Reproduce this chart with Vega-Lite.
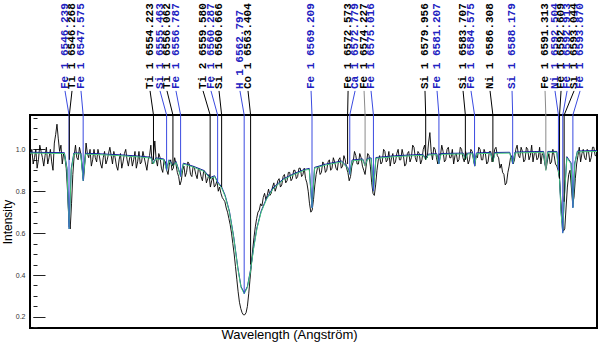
{
  "$schema": "https://vega.github.io/schema/vega-lite/v6.json",
  "width": 567,
  "height": 213,
  "autosize": {"type": "none"},
  "padding": {"left": 30, "top": 115, "right": 3, "bottom": 17},
  "background": "white",
  "title": {"text": "Wavelength (Angström)", "orient": "bottom", "anchor": "middle", "dx": -24, "offset": 1, "fontSize": 13, "fontWeight": "normal", "font": "Liberation Sans", "color": "#000", "baseline": "top"},
  "config": {
    "view": {"stroke": "#000", "strokeWidth": 2},
    "axis": {"labelFont": "Liberation Sans", "titleFont": "Liberation Sans", "titleFontWeight": "normal", "titleColor": "#000", "grid": false}
  },
  "datasets": {
    "obs": [
      {"l":6542.600,"f":0.97},{"l":6542.725,"f":1.00},{"l":6542.850,"f":0.93},{"l":6542.975,"f":0.96},{"l":6543.100,"f":1.00},{"l":6543.225,"f":0.91},{"l":6543.350,"f":0.95},{"l":6543.475,"f":1.02},
      {"l":6543.600,"f":0.99},{"l":6543.725,"f":0.96},{"l":6543.850,"f":0.92},{"l":6543.975,"f":0.97},{"l":6544.100,"f":1.01},{"l":6544.225,"f":0.93},{"l":6544.350,"f":0.96},{"l":6544.475,"f":1.00},
      {"l":6544.600,"f":0.94},{"l":6544.725,"f":0.90},{"l":6544.850,"f":1.03},{"l":6544.975,"f":1.07},{"l":6545.100,"f":1.12},{"l":6545.225,"f":1.05},{"l":6545.350,"f":0.99},{"l":6545.475,"f":1.02},
      {"l":6545.600,"f":0.93},{"l":6545.725,"f":0.98},{"l":6545.850,"f":0.96},{"l":6545.975,"f":0.91},{"l":6546.100,"f":0.80},{"l":6546.225,"f":0.66},{"l":6546.350,"f":0.62},{"l":6546.475,"f":0.74},
      {"l":6546.600,"f":0.88},{"l":6546.725,"f":0.97},{"l":6546.850,"f":1.02},{"l":6546.975,"f":0.96},{"l":6547.100,"f":0.95},{"l":6547.225,"f":1.01},{"l":6547.350,"f":0.98},{"l":6547.475,"f":0.92},
      {"l":6547.600,"f":0.85},{"l":6547.725,"f":0.93},{"l":6547.850,"f":1.03},{"l":6547.975,"f":0.98},{"l":6548.100,"f":0.96},{"l":6548.225,"f":1.00},{"l":6548.350,"f":0.92},{"l":6548.475,"f":0.95},
      {"l":6548.600,"f":1.00},{"l":6548.725,"f":0.96},{"l":6548.850,"f":0.94},{"l":6548.975,"f":1.00},{"l":6549.100,"f":0.97},{"l":6549.225,"f":0.93},{"l":6549.350,"f":0.91},{"l":6549.475,"f":0.96},
      {"l":6549.600,"f":0.99},{"l":6549.725,"f":0.93},{"l":6549.850,"f":0.95},{"l":6549.975,"f":0.98},{"l":6550.100,"f":1.01},{"l":6550.225,"f":0.97},{"l":6550.350,"f":0.93},{"l":6550.475,"f":0.99},
      {"l":6550.600,"f":0.96},{"l":6550.725,"f":0.92},{"l":6550.850,"f":0.90},{"l":6550.975,"f":0.95},{"l":6551.100,"f":0.98},{"l":6551.225,"f":0.91},{"l":6551.350,"f":0.94},{"l":6551.475,"f":0.98},
      {"l":6551.600,"f":1.00},{"l":6551.725,"f":0.95},{"l":6551.850,"f":0.92},{"l":6551.975,"f":0.96},{"l":6552.100,"f":0.97},{"l":6552.225,"f":0.92},{"l":6552.350,"f":0.95},{"l":6552.475,"f":0.99},
      {"l":6552.600,"f":0.91},{"l":6552.725,"f":0.94},{"l":6552.850,"f":0.99},{"l":6552.975,"f":0.93},{"l":6553.100,"f":0.94},{"l":6553.225,"f":0.99},{"l":6553.350,"f":0.96},{"l":6553.475,"f":0.93},
      {"l":6553.600,"f":0.90},{"l":6553.725,"f":0.95},{"l":6553.850,"f":0.97},{"l":6553.975,"f":1.02},{"l":6554.100,"f":0.93},{"l":6554.225,"f":0.97},{"l":6554.350,"f":1.04},{"l":6554.475,"f":0.95},
      {"l":6554.600,"f":0.92},{"l":6554.725,"f":0.98},{"l":6554.850,"f":0.96},{"l":6554.975,"f":0.91},{"l":6555.100,"f":0.89},{"l":6555.225,"f":0.95},{"l":6555.350,"f":0.94},{"l":6555.475,"f":0.90},
      {"l":6555.600,"f":0.88},{"l":6555.725,"f":0.93},{"l":6555.850,"f":0.95},{"l":6555.975,"f":0.90},{"l":6556.100,"f":0.91},{"l":6556.225,"f":0.96},{"l":6556.350,"f":0.93},{"l":6556.475,"f":0.89},
      {"l":6556.600,"f":0.87},{"l":6556.725,"f":0.83},{"l":6556.850,"f":0.85},{"l":6556.975,"f":0.90},{"l":6557.100,"f":0.92},{"l":6557.225,"f":0.87},{"l":6557.350,"f":0.89},{"l":6557.475,"f":0.94},
      {"l":6557.600,"f":0.93},{"l":6557.725,"f":0.88},{"l":6557.850,"f":0.87},{"l":6557.975,"f":0.92},{"l":6558.100,"f":0.91},{"l":6558.225,"f":0.88},{"l":6558.350,"f":0.86},{"l":6558.475,"f":0.91},
      {"l":6558.600,"f":0.90},{"l":6558.725,"f":0.87},{"l":6558.850,"f":0.85},{"l":6558.975,"f":0.90},{"l":6559.100,"f":0.89},{"l":6559.225,"f":0.84},{"l":6559.350,"f":0.86},{"l":6559.475,"f":0.88},
      {"l":6559.600,"f":0.82},{"l":6559.725,"f":0.85},{"l":6559.850,"f":0.87},{"l":6559.975,"f":0.82},{"l":6560.100,"f":0.83},{"l":6560.225,"f":0.85},{"l":6560.350,"f":0.80},{"l":6560.475,"f":0.82},
      {"l":6560.600,"f":0.79},{"l":6560.725,"f":0.77},{"l":6560.850,"f":0.76},{"l":6560.975,"f":0.75},{"l":6561.100,"f":0.72},{"l":6561.225,"f":0.70},{"l":6561.350,"f":0.67},{"l":6561.475,"f":0.64},
      {"l":6561.600,"f":0.60},{"l":6561.725,"f":0.55},{"l":6561.850,"f":0.50},{"l":6561.975,"f":0.44},{"l":6562.100,"f":0.38},{"l":6562.225,"f":0.32},{"l":6562.350,"f":0.27},{"l":6562.475,"f":0.24},
      {"l":6562.600,"f":0.22},{"l":6562.725,"f":0.21},{"l":6562.850,"f":0.21},{"l":6562.975,"f":0.22},{"l":6563.100,"f":0.25},{"l":6563.225,"f":0.31},{"l":6563.350,"f":0.38},{"l":6563.475,"f":0.45},
      {"l":6563.600,"f":0.52},{"l":6563.725,"f":0.58},{"l":6563.850,"f":0.63},{"l":6563.975,"f":0.67},{"l":6564.100,"f":0.70},{"l":6564.225,"f":0.71},{"l":6564.350,"f":0.74},{"l":6564.475,"f":0.73},
      {"l":6564.600,"f":0.77},{"l":6564.725,"f":0.79},{"l":6564.850,"f":0.76},{"l":6564.975,"f":0.78},{"l":6565.100,"f":0.81},{"l":6565.225,"f":0.78},{"l":6565.350,"f":0.79},{"l":6565.475,"f":0.82},
      {"l":6565.600,"f":0.84},{"l":6565.725,"f":0.80},{"l":6565.850,"f":0.82},{"l":6565.975,"f":0.85},{"l":6566.100,"f":0.86},{"l":6566.225,"f":0.82},{"l":6566.350,"f":0.83},{"l":6566.475,"f":0.87},
      {"l":6566.600,"f":0.88},{"l":6566.725,"f":0.84},{"l":6566.850,"f":0.85},{"l":6566.975,"f":0.89},{"l":6567.100,"f":0.89},{"l":6567.225,"f":0.85},{"l":6567.350,"f":0.86},{"l":6567.475,"f":0.90},
      {"l":6567.600,"f":0.90},{"l":6567.725,"f":0.86},{"l":6567.850,"f":0.87},{"l":6567.975,"f":0.91},{"l":6568.100,"f":0.91},{"l":6568.225,"f":0.87},{"l":6568.350,"f":0.88},{"l":6568.475,"f":0.91},
      {"l":6568.600,"f":0.86},{"l":6568.725,"f":0.84},{"l":6568.850,"f":0.80},{"l":6568.975,"f":0.74},{"l":6569.100,"f":0.70},{"l":6569.225,"f":0.71},{"l":6569.350,"f":0.76},{"l":6569.475,"f":0.83},
      {"l":6569.600,"f":0.88},{"l":6569.725,"f":0.91},{"l":6569.850,"f":0.92},{"l":6569.975,"f":0.88},{"l":6570.100,"f":0.89},{"l":6570.225,"f":0.94},{"l":6570.350,"f":0.93},{"l":6570.475,"f":0.89},
      {"l":6570.600,"f":0.90},{"l":6570.725,"f":0.94},{"l":6570.850,"f":0.95},{"l":6570.975,"f":0.90},{"l":6571.100,"f":0.91},{"l":6571.225,"f":0.96},{"l":6571.350,"f":0.94},{"l":6571.475,"f":0.91},
      {"l":6571.600,"f":0.90},{"l":6571.725,"f":0.95},{"l":6571.850,"f":0.96},{"l":6571.975,"f":0.91},{"l":6572.100,"f":0.92},{"l":6572.225,"f":0.97},{"l":6572.350,"f":0.95},{"l":6572.475,"f":0.91},
      {"l":6572.600,"f":0.89},{"l":6572.725,"f":0.85},{"l":6572.850,"f":0.87},{"l":6572.975,"f":0.92},{"l":6573.100,"f":0.94},{"l":6573.225,"f":0.99},{"l":6573.350,"f":0.97},{"l":6573.475,"f":0.93},
      {"l":6573.600,"f":0.93},{"l":6573.725,"f":0.98},{"l":6573.850,"f":0.96},{"l":6573.975,"f":0.92},{"l":6574.100,"f":0.90},{"l":6574.225,"f":0.88},{"l":6574.350,"f":0.93},{"l":6574.475,"f":0.98},
      {"l":6574.600,"f":0.97},{"l":6574.725,"f":0.92},{"l":6574.850,"f":0.84},{"l":6574.975,"f":0.79},{"l":6575.100,"f":0.78},{"l":6575.225,"f":0.83},{"l":6575.350,"f":0.90},{"l":6575.475,"f":0.95},
      {"l":6575.600,"f":0.97},{"l":6575.725,"f":0.93},{"l":6575.850,"f":0.94},{"l":6575.975,"f":1.00},{"l":6576.100,"f":0.99},{"l":6576.225,"f":0.94},{"l":6576.350,"f":0.95},{"l":6576.475,"f":0.99},
      {"l":6576.600,"f":0.92},{"l":6576.725,"f":0.96},{"l":6576.850,"f":0.98},{"l":6576.975,"f":0.93},{"l":6577.100,"f":0.94},{"l":6577.225,"f":0.98},{"l":6577.350,"f":1.00},{"l":6577.475,"f":0.95},
      {"l":6577.600,"f":0.95},{"l":6577.725,"f":1.00},{"l":6577.850,"f":0.97},{"l":6577.975,"f":0.92},{"l":6578.100,"f":0.93},{"l":6578.225,"f":0.98},{"l":6578.350,"f":0.99},{"l":6578.475,"f":0.94},
      {"l":6578.600,"f":0.96},{"l":6578.725,"f":1.02},{"l":6578.850,"f":1.01},{"l":6578.975,"f":0.96},{"l":6579.100,"f":0.94},{"l":6579.225,"f":0.99},{"l":6579.350,"f":0.98},{"l":6579.475,"f":0.93},
      {"l":6579.600,"f":0.95},{"l":6579.725,"f":1.00},{"l":6579.850,"f":1.02},{"l":6579.975,"f":0.97},{"l":6580.100,"f":0.96},{"l":6580.225,"f":1.03},{"l":6580.350,"f":1.08},{"l":6580.475,"f":0.99},
      {"l":6580.600,"f":0.95},{"l":6580.725,"f":1.01},{"l":6580.850,"f":1.00},{"l":6580.975,"f":0.96},{"l":6581.100,"f":0.93},{"l":6581.225,"f":0.98},{"l":6581.350,"f":0.97},{"l":6581.475,"f":1.02},
      {"l":6581.600,"f":0.99},{"l":6581.725,"f":0.94},{"l":6581.850,"f":0.95},{"l":6581.975,"f":1.00},{"l":6582.100,"f":1.01},{"l":6582.225,"f":0.96},{"l":6582.350,"f":0.96},{"l":6582.475,"f":1.00},
      {"l":6582.600,"f":0.93},{"l":6582.725,"f":0.97},{"l":6582.850,"f":0.98},{"l":6582.975,"f":0.94},{"l":6583.100,"f":0.95},{"l":6583.225,"f":1.01},{"l":6583.350,"f":1.00},{"l":6583.475,"f":0.96},
      {"l":6583.600,"f":0.94},{"l":6583.725,"f":0.99},{"l":6583.850,"f":0.97},{"l":6583.975,"f":0.93},{"l":6584.100,"f":0.95},{"l":6584.225,"f":1.00},{"l":6584.350,"f":0.99},{"l":6584.475,"f":0.95},
      {"l":6584.600,"f":0.92},{"l":6584.725,"f":0.97},{"l":6584.850,"f":0.96},{"l":6584.975,"f":1.01},{"l":6585.100,"f":1.00},{"l":6585.225,"f":0.95},{"l":6585.350,"f":0.95},{"l":6585.475,"f":1.00},
      {"l":6585.600,"f":0.98},{"l":6585.725,"f":0.93},{"l":6585.850,"f":0.94},{"l":6585.975,"f":0.99},{"l":6586.100,"f":0.99},{"l":6586.225,"f":0.94},{"l":6586.350,"f":0.95},{"l":6586.475,"f":1.00},
      {"l":6586.600,"f":1.01},{"l":6586.725,"f":0.97},{"l":6586.850,"f":0.96},{"l":6586.975,"f":0.91},{"l":6587.100,"f":0.93},{"l":6587.225,"f":0.89},{"l":6587.350,"f":0.88},{"l":6587.475,"f":0.83},
      {"l":6587.600,"f":0.84},{"l":6587.725,"f":0.89},{"l":6587.850,"f":0.92},{"l":6587.975,"f":0.96},{"l":6588.100,"f":0.97},{"l":6588.225,"f":0.93},{"l":6588.350,"f":0.95},{"l":6588.475,"f":1.00},
      {"l":6588.600,"f":1.02},{"l":6588.725,"f":0.97},{"l":6588.850,"f":0.96},{"l":6588.975,"f":1.01},{"l":6589.100,"f":0.99},{"l":6589.225,"f":0.94},{"l":6589.350,"f":0.95},{"l":6589.475,"f":1.01},
      {"l":6589.600,"f":1.00},{"l":6589.725,"f":0.95},{"l":6589.850,"f":0.97},{"l":6589.975,"f":1.02},{"l":6590.100,"f":0.94},{"l":6590.225,"f":0.98},{"l":6590.350,"f":0.99},{"l":6590.475,"f":0.95},
      {"l":6590.600,"f":0.96},{"l":6590.725,"f":1.01},{"l":6590.850,"f":0.93},{"l":6590.975,"f":0.98},{"l":6591.100,"f":0.97},{"l":6591.225,"f":0.93},{"l":6591.350,"f":0.91},{"l":6591.475,"f":0.95},
      {"l":6591.600,"f":0.98},{"l":6591.725,"f":0.93},{"l":6591.850,"f":0.94},{"l":6591.975,"f":1.00},{"l":6592.100,"f":0.97},{"l":6592.225,"f":0.93},{"l":6592.350,"f":0.92},{"l":6592.475,"f":0.90},
      {"l":6592.600,"f":0.86},{"l":6592.725,"f":0.76},{"l":6592.850,"f":0.66},{"l":6592.975,"f":0.61},{"l":6593.100,"f":0.62},{"l":6593.225,"f":0.72},{"l":6593.350,"f":0.82},{"l":6593.475,"f":0.88},
      {"l":6593.600,"f":0.90},{"l":6593.725,"f":0.82},{"l":6593.850,"f":0.74},{"l":6593.975,"f":0.77},{"l":6594.100,"f":0.86},{"l":6594.225,"f":0.93},{"l":6594.350,"f":0.97},{"l":6594.475,"f":1.01},
      {"l":6594.600,"f":0.94},{"l":6594.725,"f":0.98},{"l":6594.850,"f":1.00},{"l":6594.975,"f":0.96},{"l":6595.100,"f":0.95},{"l":6595.225,"f":1.00},{"l":6595.350,"f":0.99},{"l":6595.475,"f":0.94},
      {"l":6595.600,"f":0.96},{"l":6595.725,"f":1.01},{"l":6595.850,"f":1.01},{"l":6595.975,"f":0.97},{"l":6596.100,"f":0.97}
    ],
    "mod": [
      {"l":6542.55,"g":0.982,"b":0.986},{"l":6545.80,"g":0.980,"b":0.984},{"l":6546.05,"g":0.90,"b":0.91},{"l":6546.25,"g":0.62,"b":0.63},
      {"l":6546.45,"g":0.90,"b":0.91},{"l":6546.70,"g":0.979,"b":0.983},{"l":6547.35,"g":0.978,"b":0.982},{"l":6547.575,"g":0.85,"b":0.86},
      {"l":6547.80,"g":0.977,"b":0.981},{"l":6549.00,"g":0.975,"b":0.979},{"l":6551.00,"g":0.970,"b":0.974},{"l":6553.00,"g":0.963,"b":0.967},
      {"l":6554.00,"g":0.958,"b":0.962},{"l":6554.22,"g":0.93,"b":0.935},{"l":6554.45,"g":0.955,"b":0.959},{"l":6555.20,"g":0.950,"b":0.954},
      {"l":6555.46,"g":0.90,"b":0.905},{"l":6555.70,"g":0.946,"b":0.95},{"l":6556.06,"g":0.92,"b":0.925},{"l":6556.35,"g":0.938,"b":0.942},
      {"l":6556.79,"g":0.87,"b":0.875},{"l":6557.05,"g":0.93,"b":0.934},{"l":6558.00,"g":0.915,"b":0.919},{"l":6559.00,"g":0.895,"b":0.899},
      {"l":6559.58,"g":0.86,"b":0.865},{"l":6560.00,"g":0.87,"b":0.874},{"l":6560.29,"g":0.84,"b":0.845},{"l":6560.67,"g":0.815,"b":0.82},
      {"l":6561.00,"g":0.775,"b":0.78},{"l":6561.40,"g":0.70,"b":0.705},{"l":6561.80,"g":0.58,"b":0.585},{"l":6562.20,"g":0.43,"b":0.435},
      {"l":6562.50,"g":0.34,"b":0.345},{"l":6562.80,"g":0.31,"b":0.315},{"l":6563.10,"g":0.34,"b":0.345},{"l":6563.40,"g":0.42,"b":0.425},
      {"l":6563.70,"g":0.53,"b":0.535},{"l":6564.00,"g":0.62,"b":0.625},{"l":6564.40,"g":0.70,"b":0.705},{"l":6564.90,"g":0.76,"b":0.765},
      {"l":6565.50,"g":0.81,"b":0.815},{"l":6566.50,"g":0.855,"b":0.859},{"l":6567.50,"g":0.88,"b":0.884},{"l":6568.50,"g":0.90,"b":0.904},
      {"l":6568.95,"g":0.905,"b":0.909},{"l":6569.21,"g":0.72,"b":0.725},{"l":6569.45,"g":0.91,"b":0.914},{"l":6570.50,"g":0.925,"b":0.929},
      {"l":6572.00,"g":0.94,"b":0.944},{"l":6572.58,"g":0.91,"b":0.915},{"l":6572.78,"g":0.88,"b":0.885},{"l":6573.00,"g":0.945,"b":0.949},
      {"l":6574.00,"g":0.95,"b":0.954},{"l":6574.23,"g":0.92,"b":0.925},{"l":6574.45,"g":0.953,"b":0.957},{"l":6574.80,"g":0.955,"b":0.959},
      {"l":6575.02,"g":0.80,"b":0.805},{"l":6575.25,"g":0.957,"b":0.961},{"l":6577.00,"g":0.965,"b":0.969},{"l":6579.70,"g":0.972,"b":0.976},
      {"l":6579.96,"g":0.95,"b":0.955},{"l":6580.20,"g":0.973,"b":0.977},{"l":6581.00,"g":0.975,"b":0.979},{"l":6581.21,"g":0.93,"b":0.935},
      {"l":6581.40,"g":0.976,"b":0.98},{"l":6583.50,"g":0.978,"b":0.982},{"l":6583.71,"g":0.95,"b":0.955},{"l":6583.90,"g":0.978,"b":0.982},
      {"l":6584.40,"g":0.979,"b":0.983},{"l":6584.58,"g":0.92,"b":0.925},{"l":6584.75,"g":0.979,"b":0.983},{"l":6586.10,"g":0.981,"b":0.985},
      {"l":6586.31,"g":0.94,"b":0.945},{"l":6586.50,"g":0.981,"b":0.985},{"l":6587.90,"g":0.982,"b":0.986},{"l":6588.18,"g":0.93,"b":0.935},
      {"l":6588.40,"g":0.983,"b":0.987},{"l":6591.10,"g":0.986,"b":0.99},{"l":6591.31,"g":0.90,"b":0.905},{"l":6591.50,"g":0.986,"b":0.99},
      {"l":6592.35,"g":0.986,"b":0.99},{"l":6592.50,"g":0.90,"b":0.905},{"l":6592.61,"g":0.86,"b":0.865},{"l":6592.75,"g":0.70,"b":0.705},
      {"l":6592.91,"g":0.60,"b":0.605},{"l":6593.04,"g":0.75,"b":0.755},{"l":6593.30,"g":0.96,"b":0.965},{"l":6593.70,"g":0.93,"b":0.935},
      {"l":6593.87,"g":0.72,"b":0.725},{"l":6594.05,"g":0.93,"b":0.935},{"l":6594.30,"g":0.988,"b":0.992},{"l":6596.15,"g":0.99,"b":0.994}
    ],
    "lines": [
      {"n":"Fe 1 6546.239","lam":6546.239,"lab":6545.86,"d":0.62,"t":"b","top":1.164,"lt":1.279,"tt":1.288},
      {"n":"Ti 1 6546.268","lam":6546.268,"lab":6546.52,"d":0.95,"t":"k","top":1.164,"lt":1.279,"tt":1.288},
      {"n":"Fe 1 6547.575","lam":6547.575,"lab":6547.37,"d":0.85,"t":"b","top":1.164,"lt":1.279,"tt":1.288},
      {"n":"Ti 1 6554.223","lam":6554.223,"lab":6553.90,"d":0.95,"t":"k","top":1.164,"lt":1.279,"tt":1.288},
      {"n":"Si 1 6555.463","lam":6555.463,"lab":6554.84,"d":0.90,"t":"b","top":1.164,"lt":1.279,"tt":1.288},
      {"n":"Ti 1 6556.062","lam":6556.062,"lab":6555.50,"d":0.92,"t":"k","top":1.164,"lt":1.279,"tt":1.288},
      {"n":"Fe 1 6556.787","lam":6556.787,"lab":6556.35,"d":0.87,"t":"b","top":1.164,"lt":1.279,"tt":1.288},
      {"n":"Ti 2 6559.580","lam":6559.580,"lab":6558.91,"d":0.86,"t":"k","top":1.164,"lt":1.279,"tt":1.288},
      {"n":"Fe 1 6560.287","lam":6560.287,"lab":6559.66,"d":0.84,"t":"b","top":1.164,"lt":1.279,"tt":1.288},
      {"n":"Si 1 6560.666","lam":6560.666,"lab":6560.42,"d":0.82,"t":"k","top":1.164,"lt":1.279,"tt":1.288},
      {"n":"H 1 6562.797","lam":6562.797,"lab":6562.40,"d":0.31,"t":"b","top":1.164,"lt":1.279,"tt":1.288},
      {"n":"Co 1 6563.404","lam":6563.404,"lab":6563.16,"d":0.45,"t":"k","top":1.164,"lt":1.279,"tt":1.288},
      {"n":"Fe 1 6569.209","lam":6569.209,"lab":6569.12,"d":0.72,"t":"b","top":1.164,"lt":1.279,"tt":1.288},
      {"n":"Fe 1 6572.573","lam":6572.573,"lab":6572.62,"d":0.93,"t":"k","top":1.164,"lt":1.279,"tt":1.288},
      {"n":"Ca 1 6572.779","lam":6572.779,"lab":6573.28,"d":0.88,"t":"b","top":1.164,"lt":1.279,"tt":1.288},
      {"n":"Fe 1 6574.227","lam":6574.227,"lab":6574.13,"d":0.92,"t":"g","top":1.164,"lt":1.279,"tt":1.288},
      {"n":"Fe 1 6575.016","lam":6575.016,"lab":6574.79,"d":0.80,"t":"b","top":1.164,"lt":1.279,"tt":1.288},
      {"n":"Si 1 6579.956","lam":6579.956,"lab":6579.89,"d":0.95,"t":"k","top":1.164,"lt":1.279,"tt":1.288},
      {"n":"Fe 1 6581.207","lam":6581.207,"lab":6581.03,"d":0.93,"t":"b","top":1.164,"lt":1.279,"tt":1.288},
      {"n":"Si 1 6583.707","lam":6583.707,"lab":6583.49,"d":0.95,"t":"k","top":1.164,"lt":1.279,"tt":1.288},
      {"n":"Fe 1 6584.575","lam":6584.575,"lab":6584.24,"d":0.92,"t":"b","top":1.164,"lt":1.279,"tt":1.288},
      {"n":"Ni 1 6586.308","lam":6586.308,"lab":6586.04,"d":0.94,"t":"k","top":1.164,"lt":1.279,"tt":1.288},
      {"n":"Si 1 6588.179","lam":6588.179,"lab":6588.12,"d":0.93,"t":"b","top":1.164,"lt":1.279,"tt":1.288},
      {"n":"Fe 1 6591.313","lam":6591.313,"lab":6591.24,"d":0.90,"t":"g","top":1.164,"lt":1.279,"tt":1.288},
      {"n":"Ni 1 6592.504","lam":6592.504,"lab":6592.18,"d":0.90,"t":"b","top":1.164,"lt":1.279,"tt":1.288},
      {"n":"Fe 1 6592.609","lam":6592.609,"lab":6592.75,"d":0.86,"t":"k","top":1.164,"lt":1.279,"tt":1.288},
      {"n":"Fe 1 6592.913","lam":6592.913,"lab":6593.32,"d":0.60,"t":"b","top":1.164,"lt":1.279,"tt":1.288},
      {"n":"Si 1 6593.044","lam":6593.044,"lab":6593.98,"d":0.75,"t":"k","top":1.164,"lt":1.279,"tt":1.288},
      {"n":"Fe 1 6593.870","lam":6593.870,"lab":6594.55,"d":0.72,"t":"b","top":1.164,"lt":1.279,"tt":1.288}
    ]
  },
  "layer": [
    {
      "data": {"name": "obs"},
      "mark": {"type": "line", "color": "#000", "strokeWidth": 0.9, "clip": true},
      "encoding": {
        "x": {"field": "l", "type": "quantitative", "scale": {"domain": [6542.55, 6596.15], "nice": false, "zero": false}, "axis": null},
        "y": {"field": "f", "type": "quantitative", "scale": {"domain": [0.147, 1.164], "nice": false, "zero": false},
              "axis": {"orient": "left", "title": "Intensity", "values": [0.2, 0.4, 0.6, 0.8, 1.0], "format": ".1f", "ticks": false, "domain": false, "labelPadding": 5, "labelFontSize": 7, "labelColor": "#333", "titleFontSize": 12, "titlePadding": 1}}
      }
    },
    {
      "data": {"name": "mod"},
      "mark": {"type": "line", "color": "#1010a0", "strokeWidth": 1, "clip": true},
      "encoding": {
        "x": {"field": "l", "type": "quantitative", "axis": null},
        "y": {"field": "b", "type": "quantitative",
              "axis": {"orient": "left", "offset": -15, "values": [0.2, 0.4, 0.6, 0.8, 1.0], "labels": false, "title": null, "domain": false, "tickSize": 12, "tickColor": "#222", "tickWidth": 1}}
      }
    },
    {
      "data": {"name": "mod"},
      "mark": {"type": "line", "color": "#44c77a", "strokeWidth": 1, "clip": true},
      "encoding": {
        "x": {"field": "l", "type": "quantitative", "axis": null},
        "y": {"field": "g", "type": "quantitative",
              "axis": {"orient": "left", "offset": -7, "values": [0.15, 0.2, 0.25, 0.3, 0.35, 0.4, 0.45, 0.5, 0.55, 0.6, 0.65, 0.7, 0.75, 0.8, 0.85, 0.9, 0.95, 1.0, 1.05, 1.1, 1.15], "labels": false, "title": null, "domain": false, "tickSize": 4, "tickColor": "#222", "tickWidth": 1}}
      }
    },
    {
      "data": {"name": "lines"},
      "mark": {"type": "rule", "strokeWidth": 1},
      "encoding": {
        "x": {"field": "lam", "type": "quantitative", "axis": null},
        "y": {"field": "top", "type": "quantitative", "axis": null},
        "y2": {"field": "d"},
        "color": {"field": "t", "type": "nominal", "scale": {"domain": ["b", "k", "g"], "range": ["#3a4ae0", "#000000", "#8a8a8a"]}, "legend": null}
      }
    },
    {
      "data": {"name": "lines"},
      "mark": {"type": "rule", "strokeWidth": 1, "clip": false},
      "encoding": {
        "x": {"field": "lab", "type": "quantitative", "axis": null},
        "x2": {"field": "lam"},
        "y": {"field": "lt", "type": "quantitative", "axis": null},
        "y2": {"field": "top"},
        "color": {"field": "t", "type": "nominal", "scale": {"domain": ["b", "k", "g"], "range": ["#3a4ae0", "#000000", "#8a8a8a"]}, "legend": null}
      }
    },
    {
      "data": {"name": "lines"},
      "mark": {"type": "text", "angle": 270, "align": "left", "baseline": "middle", "font": "Liberation Mono", "fontSize": 11, "fontWeight": "bold", "clip": false},
      "encoding": {
        "x": {"field": "lab", "type": "quantitative", "axis": null},
        "y": {"field": "tt", "type": "quantitative", "axis": null},
        "text": {"field": "n", "type": "nominal"},
        "color": {"field": "t", "type": "nominal", "scale": {"domain": ["b", "k", "g"], "range": ["#2020c0", "#000000", "#000000"]}, "legend": null}
      }
    }
  ],
  "resolve": {"axis": {"y": "independent"}, "scale": {"color": "independent"}}
}
